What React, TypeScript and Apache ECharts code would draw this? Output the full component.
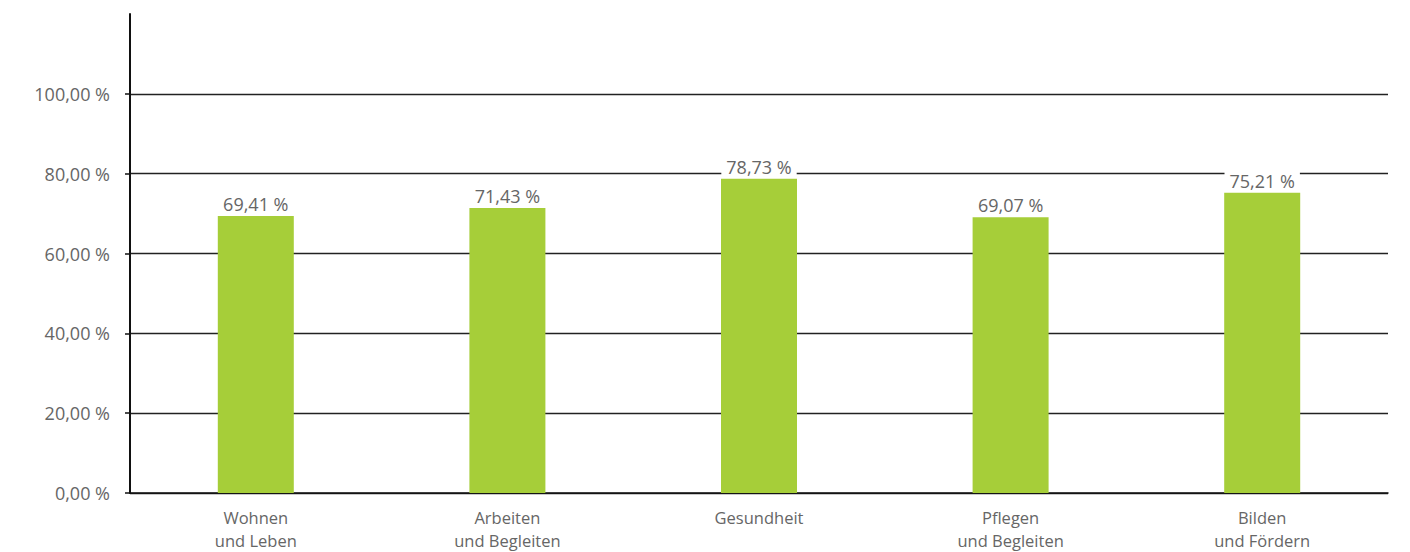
import React, { useEffect, useRef } from "react";
import * as echarts from "echarts";

const categories = ["Wohnen\nund Leben", "Arbeiten\nund Begleiten", "Gesundheit", "Pflegen\nund Begleiten", "Bilden\nund Fördern"];
const values = [69.41, 71.43, 78.73, 69.07, 75.21];
const yTicks = [0, 20, 40, 60, 80, 100];

const fmt = (v: number) => v.toFixed(2).replace(".", ",") + " %";

export default function App() {
  const ref = useRef<HTMLDivElement>(null);
  useEffect(() => {
    document.body.style.margin = "0";
    const chart = echarts.init(ref.current!, null, { renderer: "svg" });
    chart.setOption({
      animation: false,
      grid: { left: 130, right: 22, top: 14, bottom: 59 },
      xAxis: {
        type: "category",
        data: categories,
        axisLine: { lineStyle: { color: "#111", width: 1.5 } },
        axisTick: { show: false },
        axisLabel: {
          color: "#666",
          fontFamily: "Open Sans",
          fontSize: 16.5,
          lineHeight: 23,
          margin: 13,
          interval: 0,
        },
      },
      yAxis: {
        type: "value",
        min: 0,
        max: 120,
        interval: 20,
        axisLine: { show: true, lineStyle: { color: "#111", width: 2 } },
        axisTick: { show: true, length: 5, customValues: yTicks, lineStyle: { color: "#111", width: 1.5 } },
        axisLabel: {
          customValues: yTicks,
          color: "#666",
          fontFamily: "Open Sans",
          fontSize: 18,
          margin: 20,
          formatter: (v: number) => fmt(v),
        },
        splitLine: { show: true, lineStyle: { color: "#222", width: 1.3 } },
      },
      series: [
        {
          type: "bar",
          data: values,
          barWidth: 76,
          itemStyle: { color: "#a6ce39" },
          label: {
            show: true,
            position: "top",
            distance: 3,
            color: "#666",
            fontFamily: "Open Sans",
            fontSize: 18,
            backgroundColor: "#fff",
            padding: [0, 5],
            formatter: (p: any) => fmt(p.value),
          },
        },
      ],
    });
    return () => chart.dispose();
  }, []);
  return <div ref={ref} style={{ width: 1410, height: 552 }} />;
}
